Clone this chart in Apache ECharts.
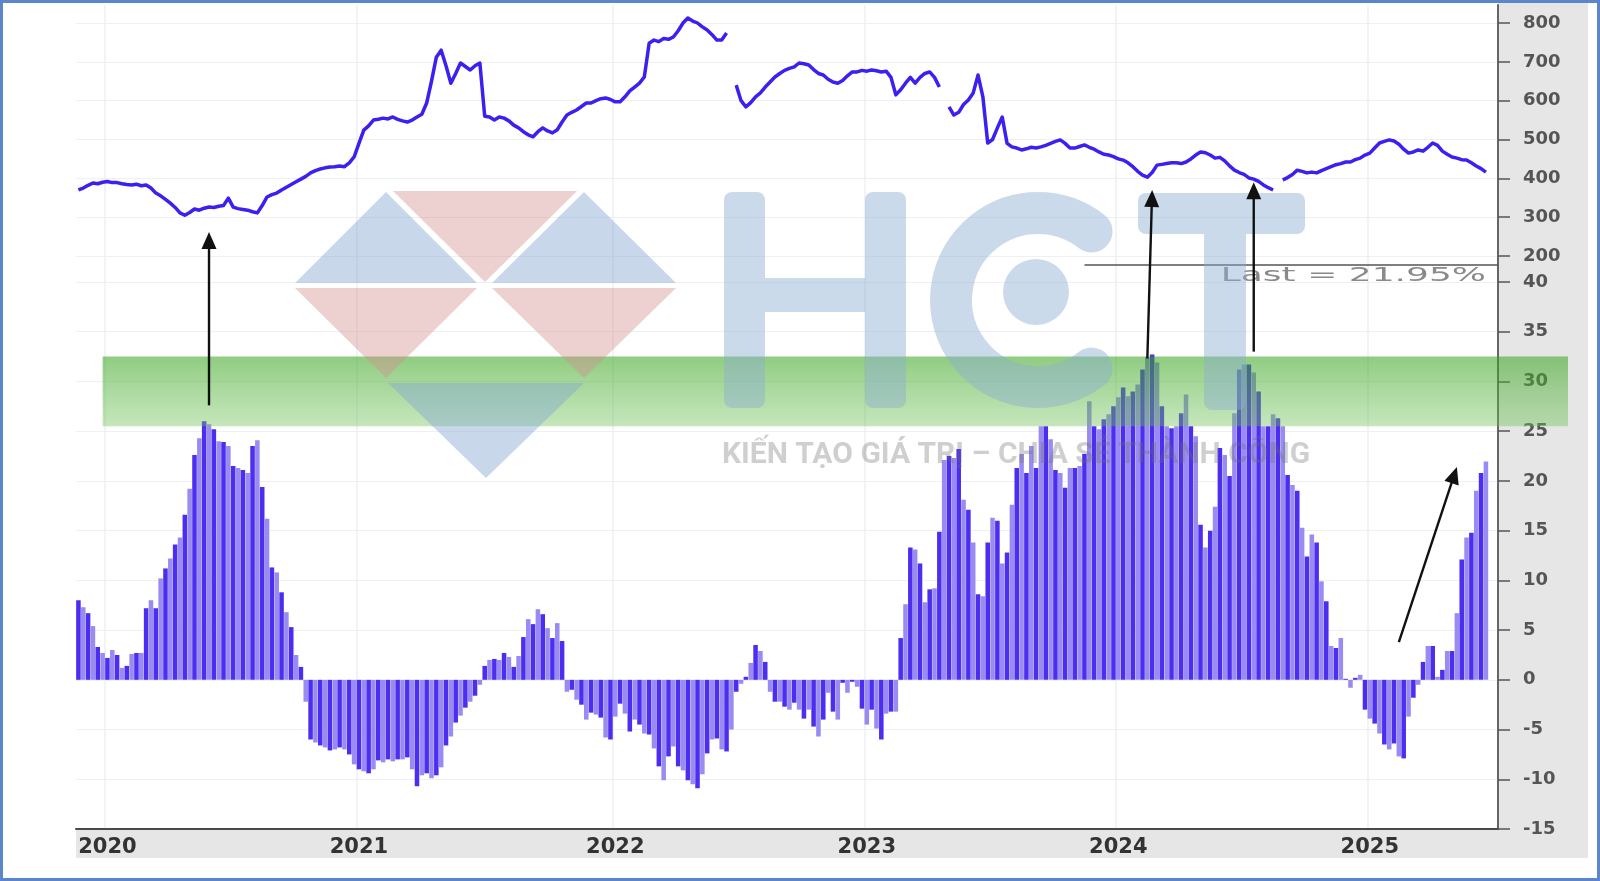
<!DOCTYPE html>
<html><head><meta charset="utf-8">
<script src="https://cdn.jsdelivr.net/npm/echarts@6/dist/echarts.min.js"></script>
<style>html,body{margin:0;padding:0;background:#fff}#c{width:1600px;height:881px}</style>
</head><body><div id="c"></div>
<script>
// ---------------- data ----------------
const START_WEEK = '2019-11-22';
const N_SLOTS = 294;
const oscValues = [
  8.0, 7.3, 6.7, 5.4, 3.3, 2.7, 2.2, 3.0, 2.5, 1.2,
  1.4, 2.6, 2.7, 2.7, 7.2, 8.0, 7.2, 10.2, 11.2, 12.2,
  13.6, 14.3, 16.6, 19.2, 22.6, 24.3, 26.0, 25.7, 25.2, 24.0,
  23.9, 23.5, 21.5, 21.3, 21.1, 20.8, 23.5, 24.1, 19.4, 16.2,
  11.3, 10.8, 8.8, 6.8, 5.3, 2.5, 1.3, -2.2, -6.0, -6.3,
  -6.6, -6.8, -7.1, -7.0, -6.8, -7.0, -7.5, -8.5, -9.0, -9.2,
  -9.4, -9.0, -8.1, -8.3, -8.0, -8.2, -8.0, -8.0, -7.8, -9.0,
  -10.7, -9.6, -9.4, -9.9, -9.6, -8.8, -6.6, -5.7, -4.3, -3.6,
  -2.8, -2.2, -1.6, -0.5, 1.4, 2.0, 2.1, 2.0, 2.7, 2.3,
  1.3, 2.4, 4.3, 6.1, 5.6, 7.1, 6.6, 5.2, 4.2, 5.7,
  3.9, -1.2, -1.0, -2.0, -2.5, -4.0, -3.3, -3.5, -3.8, -5.8,
  -6.0, -3.7, -2.4, -3.4, -5.2, -4.0, -4.5, -5.4, -5.5, -6.9,
  -8.7, -10.1, -7.7, -6.7, -8.7, -9.1, -10.1, -10.5, -10.9, -9.5,
  -7.4, -6.0, -5.9, -7.0, -7.2, -5.0, -1.2, -0.4, 0.3, 1.7,
  3.5, 2.9, 1.8, -1.2, -2.2, -2.2, -2.7, -3.0, -2.3, -3.0,
  -3.9, -3.0, -4.7, -5.7, -4.0, -1.3, -3.2, -4.0, -0.3, -1.3,
  -0.2, -0.7, -2.9, -4.5, -3.0, -4.9, -6.0, -3.4, -3.2, -3.2,
  4.2, 7.6, 13.3, 13.1, 11.7, 7.8, 9.1, 9.2, 14.9, 22.1,
  22.5, 22.3, 23.2, 18.1, 17.1, 13.8, 8.6, 8.4, 13.8, 16.3,
  16.0, 11.7, 12.8, 17.6, 21.3, 22.7, 20.8, 23.5, 21.3, 25.5,
  25.5, 24.2, 21.1, 20.8, 19.3, 21.3, 21.3, 21.5, 22.7, 28.0,
  25.5, 25.2, 26.2, 26.7, 27.5, 28.4, 29.4, 28.5, 29.0, 29.7,
  31.2, 32.4, 32.7, 31.9, 27.5, 25.5, 25.3, 25.5, 26.8, 28.7,
  25.5, 24.5, 15.6, 13.3, 15.0, 17.4, 23.3, 22.6, 20.5, 26.8,
  31.2, 31.7, 31.7, 30.9, 29.0, 25.5, 25.5, 26.7, 26.3, 25.5,
  20.6, 19.6, 19.0, 15.3, 12.4, 14.6, 13.8, 9.9, 7.9, 3.4,
  3.2, 4.2, 0.1, -0.8, 0.2, 0.5, -3.0, -3.9, -4.4, -5.4,
  -6.5, -7.0, -6.4, -7.7, -7.9, -3.7, -1.8, -0.5, 1.8, 3.4,
  3.4, 0.3, 1.0, 2.9, 2.9, 6.7, 12.1, 14.3, 14.8, 19.0,
  20.8, 21.95
];
const priceValues = [
  370, 375, 382, 388, 386, 390, 392, 389, 389, 386,
  384, 383, 385, 381, 383, 375, 362, 355, 346, 336,
  325, 311, 305, 312, 321, 318, 323, 326, 325, 328,
  330, 349, 326, 322, 320, 318, 314, 311, 330, 352,
  358, 362, 370, 377, 384, 391, 398, 405, 414, 420,
  424, 427, 429, 430, 432, 430, 440, 455, 490, 524,
  535, 550, 552, 555, 553, 558, 552, 548, 545, 550,
  558, 565, 594, 650, 712, 730, 690, 645, 670, 697,
  688, 679, 690, 697, 560, 558, 550, 558, 555, 548,
  537, 530, 520, 512, 507, 520, 530, 522, 517, 525,
  545, 563, 570, 576, 585, 594, 594, 600, 605, 607,
  603, 597, 597, 610, 625, 635, 645, 661, 748, 756,
  752, 760, 758, 764, 780, 800, 813, 805, 800, 790,
  782, 770, 756, 756, 774, null, 640, 600, 584, 595,
  610, 620, 635, 648, 661, 670, 678, 683, 687, 697,
  695, 692, 680, 670, 666, 655, 648, 645, 652, 664,
  674, 674, 678, 676, 679, 677, 674, 676, 660, 615,
  628, 645, 660, 645, 660, 670, 674, 660, 635, null,
  584, 563, 570, 590, 602, 620, 666, 610, 491, 500,
  530, 558, 490, 481, 478, 473, 476, 480, 478, 481,
  485, 490, 495, 499, 490, 478, 478, 482, 486, 480,
  475, 468, 462, 460, 456, 450, 447, 440, 430, 418,
  408, 403, 415, 434, 436, 438, 440, 440, 438, 442,
  450, 460, 468, 466, 460, 452, 454, 445, 432, 421,
  415, 410, 401, 398, 392, 383, 376, 370, null, 396,
  402, 410, 421, 418, 414, 416, 414, 420, 425, 430,
  435, 438, 442, 442, 448, 452, 460, 465, 478, 491,
  495, 499, 496, 488, 475, 465, 468, 473, 470, 480,
  491, 485, 470, 462, 455, 452, 448, 447, 440, 432,
  425, 416
];
const priceTicks = { min: 200, max: 800, step: 100 };
const oscTicks = { min: -15, max: 40, step: 5 };
const signalBand = [25.5, 32.5];
const lastValue = 21.95;
const lastLabel = 'Last = ' + lastValue.toFixed(2) + '%';
const sloganText = 'KIẾN TẠO GIÁ TRỊ – CHIA SẺ THÀNH CÔNG';
// annotation arrows: [gridIndex, weekIndex, value]
const arrowNotes = [
  { from: [1, 27, 27.6], to: [0, 27, 262] },
  { from: [1, 221, 32.3], to: [0, 222, 370] },
  { from: [1, 243, 33.0], to: [0, 243, 390] },
  { from: [1, 273, 3.8], to: [1, 285, 21.4] }
];

// ---------------- categories ----------------
const weeks = [];
{
  let t = Date.parse(START_WEEK + 'T00:00:00Z');
  for (let i = 0; i < N_SLOTS; i++) {
    weeks.push(new Date(t).toISOString().slice(0, 10));
    t += 7 * 86400000;
  }
}
const isYearStart = (idx) => idx > 0 && weeks[idx].slice(0, 4) !== weeks[idx - 1].slice(0, 4);

// ---------------- layout ----------------
const L = 76, W = 1422, R = L + W;
const chart = echarts.init(document.getElementById('c'), null, { renderer: 'canvas' });

const hiddenX = (gi) => ({
  type: 'category', gridIndex: gi, data: weeks,
  axisLine: { show: false }, axisTick: { show: false }, axisLabel: { show: false }, splitLine: { show: false }
});
const rightLabel = { margin: 25, color: '#555', fontFamily: 'DejaVu Sans', fontWeight: 'bold', fontSize: 18 };

chart.setOption({
  animation: false,
  backgroundColor: '#ffffff',
  grid: [
    { left: L, top: 23, width: W, height: 233 },
    { left: L, top: 282, width: W, height: 547 },
    { left: L, top: 5, width: W, height: 824 }
  ],
  xAxis: [
    hiddenX(0),
    {
      type: 'category', gridIndex: 1, data: weeks,
      axisLine: { onZero: false, lineStyle: { color: '#4a4a4a', width: 2 } },
      axisTick: { interval: isYearStart, length: 5, lineStyle: { color: '#4a4a4a', width: 1.5 } },
      axisLabel: {
        interval: isYearStart, formatter: (v) => v.slice(0, 4), margin: 8,
        color: '#333', fontFamily: 'DejaVu Sans', fontWeight: 'bold', fontSize: 21
      },
      splitLine: { show: false }
    },
    {
      type: 'category', gridIndex: 2, data: weeks,
      axisLine: { show: false }, axisTick: { show: false }, axisLabel: { show: false },
      splitLine: { show: true, interval: isYearStart, lineStyle: { color: '#eceff4', width: 1.5 } }
    }
  ],
  yAxis: [
    {
      type: 'value', gridIndex: 0, position: 'right',
      min: priceTicks.min, max: priceTicks.max, interval: priceTicks.step,
      axisLine: { show: false },
      axisTick: { show: true, length: 12, lineStyle: { color: '#555', width: 1.5 } },
      axisLabel: rightLabel,
      splitLine: { lineStyle: { color: '#eef0f4', width: 1.2 } }
    },
    {
      type: 'value', gridIndex: 1, position: 'right',
      min: oscTicks.min, max: oscTicks.max, interval: oscTicks.step,
      axisLine: { show: false },
      axisTick: { show: true, length: 12, lineStyle: { color: '#555', width: 1.5 } },
      axisLabel: rightLabel,
      splitLine: { lineStyle: { color: '#eef0f4', width: 1.2 } }
    },
    {
      type: 'value', gridIndex: 2, position: 'right', min: 0, max: 1,
      axisLine: { show: true, onZero: false, lineStyle: { color: '#666', width: 2 } },
      axisTick: { show: false }, axisLabel: { show: false }, splitLine: { show: false }
    }
  ],
  series: [
    {
      type: 'bar', xAxisIndex: 1, yAxisIndex: 1, data: oscValues,
      barCategoryGap: '6%',
      itemStyle: { color: (p) => (p.dataIndex % 2 ? '#988cf2' : '#4d2ef0') },
      z: 3
    },
    {
      type: 'line', xAxisIndex: 0, yAxisIndex: 0, data: priceValues,
      symbol: 'none', clip: false, connectNulls: false,
      lineStyle: { color: '#3b20f0', width: 3.5, join: 'round' },
      z: 4
    }
  ]
});

// ---------------- annotations & decorations ----------------
const px = (g, i, v) => chart.convertToPixel({ gridIndex: g }, [i, v]);

function arrowShape(a, b) {
  const dx = b[0] - a[0], dy = b[1] - a[1];
  const len = Math.hypot(dx, dy), ux = dx / len, uy = dy / len;
  const hl = 17, hw = 7.5;
  const bx = b[0] - ux * hl, by = b[1] - uy * hl;
  return [
    { type: 'line', z: 150, shape: { x1: a[0], y1: a[1], x2: bx + ux * 2, y2: by + uy * 2 },
      style: { stroke: '#111', lineWidth: 2.4 } },
    { type: 'polygon', z: 150, shape: { points: [[b[0], b[1]], [bx - uy * hw, by + ux * hw], [bx + uy * hw, by - ux * hw]] },
      style: { fill: '#111' } }
  ];
}

const bandTop = px(1, 0, signalBand[1])[1];
const bandBot = px(1, 0, signalBand[0])[1];
const bandLeft = px(1, 5, 0)[0];
const lastY = px(1, 0, 41.7)[1];
const lastTextY = px(1, 0, 40.6)[1];
const lastX0 = px(1, 208, 0)[0];

const blue = 'rgba(133,169,209,0.45)';
const pink = 'rgba(213,144,144,0.42)';
const letter = 'rgba(140,172,210,0.45)';

const elems = [
  // gray axis backgrounds
  { type: 'rect', z: -5, shape: { x: R, y: 3, width: 1588 - R, height: 855 }, style: { fill: '#e6e6e6' } },
  { type: 'rect', z: -5, shape: { x: L, y: 830, width: R - L, height: 28 }, style: { fill: '#e6e6e6' } },
  // signal band
  { type: 'rect', z: 120, shape: { x: bandLeft, y: bandTop, width: 1568 - bandLeft, height: bandBot - bandTop },
    style: { fill: new echarts.graphic.LinearGradient(0, 0, 0, 1, [
      { offset: 0, color: 'rgba(51,162,24,0.55)' }, { offset: 1, color: 'rgba(110,192,85,0.40)' }]) } },
  // last value line + label
  { type: 'line', z: 130, shape: { x1: lastX0, y1: lastY, x2: R, y2: lastY }, style: { stroke: '#555', lineWidth: 1.5 } },
  { type: 'text', z: 130, x: 1486, y: lastTextY, scaleX: 1.8,
    style: { text: lastLabel, fill: '#8a8a8a', font: '20px "DejaVu Sans"', align: 'right', verticalAlign: 'middle' } },
  // watermark triangles
  { type: 'polygon', z: 140, shape: { points: [[295, 283], [477, 283], [386, 192]] }, style: { fill: blue } },
  { type: 'polygon', z: 140, shape: { points: [[393, 191], [577, 191], [485, 282]] }, style: { fill: pink } },
  { type: 'polygon', z: 140, shape: { points: [[492, 283], [676, 283], [584, 192]] }, style: { fill: blue } },
  { type: 'polygon', z: 140, shape: { points: [[295, 288], [477, 288], [386, 378]] }, style: { fill: pink } },
  { type: 'polygon', z: 140, shape: { points: [[492, 288], [676, 288], [584, 378]] }, style: { fill: pink } },
  { type: 'polygon', z: 140, shape: { points: [[388, 383], [584, 383], [486, 478]] }, style: { fill: blue } },
  // H
  { type: 'rect', z: 140, shape: { x: 724, y: 192, width: 41, height: 216, r: 8 }, style: { fill: letter } },
  { type: 'rect', z: 140, shape: { x: 865, y: 192, width: 41, height: 216, r: 8 }, style: { fill: letter } },
  { type: 'rect', z: 140, shape: { x: 765, y: 278, width: 100, height: 34 }, style: { fill: letter } },
  // C
  { type: 'arc', z: 140, shape: { cx: 1038, cy: 300, r: 87, startAngle: 52 * Math.PI / 180, endAngle: 308 * Math.PI / 180, clockwise: true },
    style: { stroke: letter, fill: null, lineWidth: 42, lineCap: 'round' } },
  { type: 'circle', z: 140, shape: { cx: 1036, cy: 292, r: 33 }, style: { fill: letter } },
  // T
  { type: 'rect', z: 140, shape: { x: 1138, y: 193, width: 167, height: 41, r: 8 }, style: { fill: letter } },
  { type: 'rect', z: 140, shape: { x: 1204, y: 234, width: 42, height: 176, r: [0, 0, 8, 8] }, style: { fill: letter } },
  // slogan
  { type: 'text', z: 140, x: 722, y: 455,
    style: { text: sloganText, fill: 'rgba(110,110,110,0.33)', font: 'bold 30px Roboto', align: 'left', verticalAlign: 'middle' } },
  // frame
  { type: 'rect', z: 200, shape: { x: 1.5, y: 1.5, width: 1597, height: 878 }, style: { fill: null, stroke: '#5b86c8', lineWidth: 3 } }
];
arrowNotes.forEach((n) => {
  elems.push(...arrowShape(px(n.from[0], n.from[1], n.from[2]), px(n.to[0], n.to[1], n.to[2])));
});
chart.setOption({ graphic: { elements: elems } });
</script>
</body></html>
